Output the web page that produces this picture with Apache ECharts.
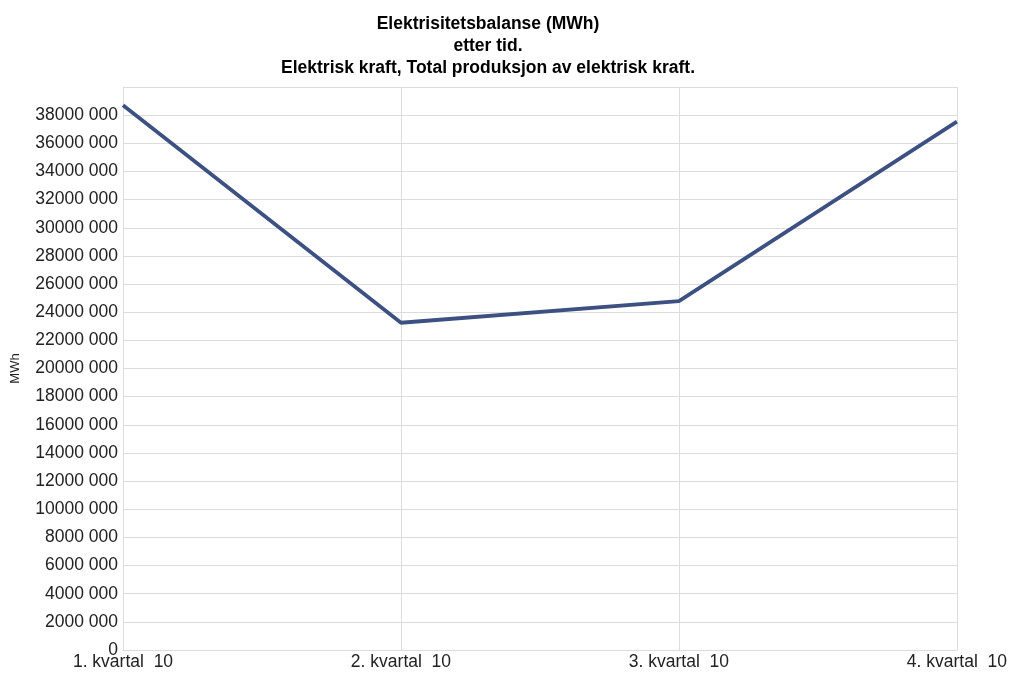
<!DOCTYPE html>
<html>
<head>
<meta charset="utf-8">
<script src="https://cdn.jsdelivr.net/npm/echarts@6/dist/echarts.min.js"></script>
<style>
  html, body { margin: 0; padding: 0; background: #fff; }
  #chart { width: 1010px; height: 673px; }
</style>
</head>
<body>
<div id="chart"></div>
<script>
// Quarterly electricity production, 2010 (MWh)
const categories = ['1. kvartal  10', '2. kvartal  10', '3. kvartal  10', '4. kvartal  10'];
const production = [38700000, 23250000, 24790000, 37540000];
const titleLines = [
  'Elektrisitetsbalanse (MWh)',
  'etter tid.',
  'Elektrisk kraft, Total produksjon av elektrisk kraft.'
];
const yAxisName = 'MWh';

// Norwegian-style grouping: "38000 000"
function formatMWh(v) {
  if (v === 0) return '0';
  const hi = Math.floor(v / 1000);
  const lo = String(v % 1000).padStart(3, '0');
  return hi + ' ' + lo;
}

const chart = echarts.init(document.getElementById('chart'), null, { renderer: 'canvas' });
const font = '"Liberation Sans", Arial, sans-serif';

chart.setOption({
  animation: false,
  backgroundColor: '#ffffff',
  title: {
    text: titleLines.join('\n'),
    left: 483,
    top: 8,
    textAlign: 'center',
    textStyle: {
      fontFamily: font,
      fontSize: 17.5,
      fontWeight: 'bold',
      color: '#000',
      lineHeight: 22
    }
  },
  grid: { left: 123, right: 50, top: 87, bottom: 23, containLabel: false },
  xAxis: {
    type: 'category',
    data: categories,
    boundaryGap: false,
    axisLine: { show: true, lineStyle: { color: '#dcdcdc', width: 1 } },
    axisTick: { show: false },
    splitLine: { show: true, lineStyle: { color: '#dcdcdc', width: 1 } },
    axisLabel: {
      fontFamily: font,
      fontSize: 17.5,
      color: '#222',
      margin: 3,
      showMaxLabel: true,
      showMinLabel: true,
      interval: 0
    }
  },
  yAxis: {
    type: 'value',
    min: 0,
    max: 40000000,
    interval: 2000000,
    name: yAxisName,
    nameLocation: 'middle',
    nameGap: 101,
    nameRotate: 90,
    nameTextStyle: { fontFamily: font, fontSize: 13, color: '#222' },
    axisLine: { show: true, lineStyle: { color: '#dcdcdc', width: 1 } },
    axisTick: { show: false },
    splitLine: { show: true, lineStyle: { color: '#dcdcdc', width: 1 } },
    axisLabel: {
      fontFamily: font,
      fontSize: 17.5,
      color: '#222',
      margin: 5,
      showMaxLabel: false,
      formatter: formatMWh
    }
  },
  series: [{
    type: 'line',
    data: production,
    symbol: 'none',
    lineStyle: { color: '#3c5082', width: 3.8 },
    itemStyle: { color: '#3c5082' }
  }]
});
</script>
</body>
</html>
